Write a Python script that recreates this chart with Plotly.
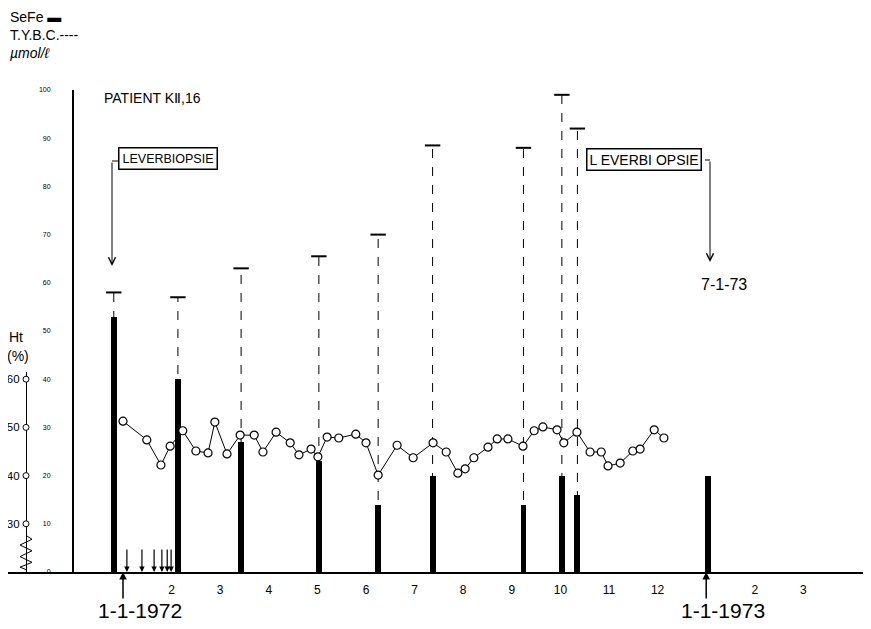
import plotly.graph_objects as go

# ---------------- data (x = months since 1-1-1972) ----------------
sefe_month = [-0.19, 1.13, 2.43, 4.03, 5.25, 6.37, 8.24, 9.03, 9.35, 12.04]
sefe_value = [53, 40, 27, 23, 14, 20, 14, 20, 16, 20]

tibc_month = [-0.19, 1.13, 2.43, 4.03, 5.25, 6.37, 8.24, 9.03, 9.35]
tibc_value = [58, 57, 63, 65.5, 70, 88.5, 88, 99, 92]

ht_month = [0.00, 0.49, 0.78, 0.97, 1.23, 1.50, 1.75, 1.89, 2.14, 2.41, 2.70, 2.88,
            3.15, 3.44, 3.62, 3.87, 4.01, 4.20, 4.44, 4.79, 5.00, 5.25, 5.64, 5.97,
            6.38, 6.65, 6.89, 7.04, 7.22, 7.51, 7.70, 7.92, 8.23, 8.46, 8.64, 8.93,
            9.07, 9.34, 9.61, 9.84, 9.98, 10.23, 10.49, 10.64, 10.93, 11.13]
ht_value = [51.3, 47.4, 42.2, 46.1, 49.3, 45.1, 44.7, 51.1, 44.5, 48.4, 48.4, 44.9,
            49.0, 46.8, 44.3, 45.5, 43.9, 48.0, 47.8, 48.6, 46.8, 40.1, 46.3, 43.7,
            46.8, 44.9, 40.5, 41.4, 43.7, 45.9, 47.6, 47.6, 46.1, 49.3, 50.1, 49.5,
            46.8, 49.0, 44.9, 44.9, 42.0, 42.6, 45.1, 45.5, 49.5, 47.8]

venesection_month = [0.08, 0.39, 0.64, 0.80, 0.91, 0.99]

month_tickvals = [1, 2, 3, 4, 5, 6, 7, 8, 9, 10, 11, 13, 14]
month_ticktext = ["2", "3", "4", "5", "6", "7", "8", "9", "10", "11", "12", "2", "3"]

sefe_ticks = [0, 10, 20, 30, 40, 50, 60, 70, 80, 90, 100]
ht_ticks = [30, 40, 50, 60]

year_marks = [0, 12]
year_labels = ["1-1-1972", "1-1-1973"]

# ---------------- layout geometry (page pixels; page body has 8px margin) ----------------
OFF = 8
W, H = 871, 629
ML, MR, MT, MB = 0, 14, 82, 65
PW, PH = W - ML - MR, H - MT - MB
X0_PAGE = OFF + ML          # page x of plot left edge
Y1_PAGE = OFF + H - MB      # page y of plot bottom (value 0)
MONTH_PX, JAN72_PX = 48.6, 123
HT_AXIS_PX = 26


def px(x):
    return (x - X0_PAGE) / PW


def py(y):
    return (Y1_PAGE - y) / PH


FONT = "Liberation Sans"
fig = go.Figure()

# T.IJ.B.C. dashed lines
dx, dy = [], []
for m, v in zip(tibc_month, tibc_value):
    dx += [m, m, None]
    dy += [0, v, None]
fig.add_trace(go.Scatter(x=dx, y=dy, mode="lines",
                         line=dict(color="black", width=1, dash="dash"),
                         hoverinfo="skip", showlegend=False))
fig.add_trace(go.Scatter(x=tibc_month, y=tibc_value, mode="markers",
                         marker=dict(symbol="line-ew", size=11,
                                     line=dict(color="black", width=2)),
                         showlegend=False, cliponaxis=False))

# SeFe bars
fig.add_trace(go.Bar(x=sefe_month, y=sefe_value, width=0.12,
                     marker=dict(color="black", line=dict(width=0)),
                     showlegend=False))

# Ht line
fig.add_trace(go.Scatter(x=ht_month, y=ht_value, yaxis="y2", mode="lines+markers",
                         line=dict(color="black", width=1),
                         marker=dict(symbol="circle", size=8, color="white",
                                     line=dict(color="black", width=1.2)),
                         showlegend=False, cliponaxis=False))

shapes = []
annotations = []


def text(x, y, s, size, **kw):
    d = dict(xref="paper", yref="paper", x=px(x), y=py(y), text=s, showarrow=False,
             xanchor="center", yanchor="middle",
             font=dict(family=FONT, size=size, color="black"))
    d.update(kw)
    annotations.append(d)


# Ht axis tick circles
for t in ht_ticks:
    shapes.append(dict(type="circle", xref="paper", yref="y2",
                       xsizemode="pixel", ysizemode="pixel",
                       xanchor=px(HT_AXIS_PX), yanchor=t, x0=-3, x1=3, y0=-3, y1=3,
                       fillcolor="white", line=dict(color="black", width=1)))
# zigzag break on Ht axis
zx_c, zx_l, zx_r = px(HT_AXIS_PX), px(HT_AXIS_PX - 6), px(HT_AXIS_PX + 6)
zig = (f"M {zx_c},27.6 L {zx_r},26.8 L {zx_l},25.6 L {zx_r},24.4 L {zx_l},23.2 "
       f"L {zx_r},22.0 L {zx_l},21.0 L {zx_c},20.5")
shapes.append(dict(type="path", xref="paper", yref="y2", path=zig,
                   line=dict(color="black", width=1)))

# leverbiopsie connectors
shapes.append(dict(type="line", xref="paper", yref="paper",
                   x0=px(121), x1=px(112), y0=py(161), y1=py(161),
                   line=dict(color="black", width=1)))
shapes.append(dict(type="line", xref="paper", yref="paper",
                   x0=px(705), x1=px(710), y0=py(160), y1=py(160),
                   line=dict(color="black", width=1)))
annotations.append(dict(xref="paper", yref="paper", x=px(112), y=py(266),
                        ax=0, ay=-105, showarrow=True, arrowhead=5, arrowsize=1.4,
                        arrowwidth=1, arrowcolor="black", text=""))
annotations.append(dict(xref="paper", yref="paper", x=px(710), y=py(262),
                        ax=0, ay=-102, showarrow=True, arrowhead=5, arrowsize=1.4,
                        arrowwidth=1, arrowcolor="black", text=""))

# boxes
text(168, 158, "LEVERBIOPSIE", 12.5, bordercolor="black", borderwidth=1.5,
     borderpad=3, bgcolor="white")
text(644, 159, "L EVERBI OPSIE", 14, bordercolor="black", borderwidth=1.5,
     borderpad=2, bgcolor="white")
text(724, 284, "7-1-73", 16)

# title text
text(102, 98, "PATIENT KⅡ,16", 14, xanchor="left")

# legend / units
text(9, 17, "SeFe <b>▬</b>", 14, xanchor="left", borderpad=0)
text(9, 35, "T.Y.B.C.----", 14, xanchor="left", borderpad=0)
text(9, 53, "<i>µmol/ℓ</i>", 14, xanchor="left", borderpad=0)

# Ht axis title
text(16, 337, "Ht", 14)
text(18, 356, "(%)", 14)

# venesection arrows
for m in venesection_month:
    annotations.append(dict(xref="x", yref="y", x=m, y=0, ax=0, ay=-24,
                            showarrow=True, arrowhead=2, arrowsize=0.9,
                            arrowwidth=1.2, arrowcolor="black", text=""))

# year arrows and labels
for m, lab in zip(year_marks, year_labels):
    annotations.append(dict(xref="x", yref="y", x=m, y=0, ax=0, ay=28,
                            showarrow=True, arrowhead=2, arrowsize=1,
                            arrowwidth=1.5, arrowcolor="black", text=""))
    annotations.append(dict(xref="x", yref="paper", x=m, y=py(610), xshift=17,
                            xanchor="center", yanchor="middle",
                            text=lab, showarrow=False,
                            font=dict(family=FONT, size=21, color="black")))

fig.update_layout(
    width=W, height=H,
    margin=dict(l=ML, r=MR, t=MT, b=MB, autoexpand=False),
    paper_bgcolor="white", plot_bgcolor="rgba(0,0,0,0)",
    showlegend=False, bargap=0,
    xaxis=dict(range=[(X0_PAGE - JAN72_PX) / MONTH_PX,
                      (X0_PAGE + PW - JAN72_PX) / MONTH_PX],
               showline=True, linecolor="black", linewidth=2,
               tickvals=month_tickvals, ticktext=month_ticktext,
               ticks="", showgrid=False, zeroline=False,
               ticklabelstandoff=6, automargin=False,
               tickfont=dict(family=FONT, size=12, color="black"),
               anchor="y"),
    yaxis=dict(range=[0, 100], domain=[0, 1], anchor="free", position=px(73),
               showline=True, linecolor="black", linewidth=2,
               tickvals=sefe_ticks, ticks="", showgrid=False, zeroline=False,
               ticklabelstandoff=20, automargin=False,
               tickfont=dict(family=FONT, size=7, color="black")),
    yaxis2=dict(range=[20, 61.5], domain=[0, 0.415], anchor="free",
                position=px(HT_AXIS_PX),
                showline=True, linecolor="black", linewidth=1.3,
                tickvals=ht_ticks, ticks="", showgrid=False, zeroline=False,
                ticklabelstandoff=4, automargin=False,
                tickfont=dict(family=FONT, size=11.5, color="black")),
    shapes=shapes,
    annotations=annotations,
)

fig.write_html("out.html")
